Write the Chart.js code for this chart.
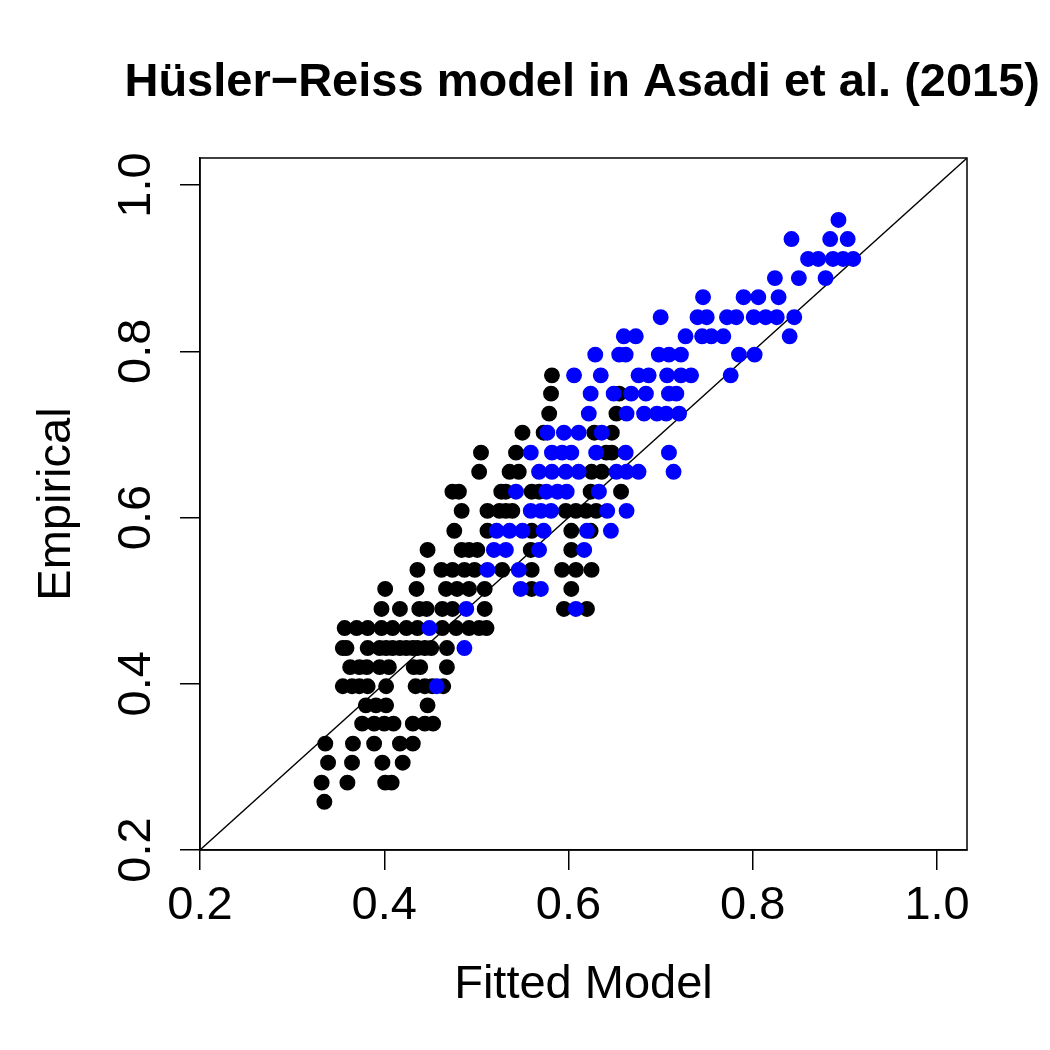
<!DOCTYPE html>
<html>
<head>
<meta charset="utf-8">
<script src="https://cdn.jsdelivr.net/npm/chart.js@4/dist/chart.umd.min.js"></script>
<style>
  html, body { margin: 0; padding: 0; background: #ffffff; }
  #wrap { width: 1050px; height: 1050px; }
</style>
</head>
<body>
<div id="wrap"><canvas id="c" width="1050" height="1050"></canvas></div>
<script>
// ---- data ----
const chartTitle = 'Hüsler\u2212Reiss model in Asadi et al. (2015)';
const xAxisTitle = 'Fitted Model';
const yAxisTitle = 'Empirical';
const xTicks = [0.2, 0.4, 0.6, 0.8, 1.0];
const yTicks = [0.2, 0.4, 0.6, 0.8, 1.0];
const axisRange = [0.2, 1.0325];
const identityLine = [0.2, 1.1];

// discrete empirical values (rows of points)
const empiricalLevels = [0.258, 0.281, 0.305, 0.328, 0.352, 0.374, 0.397, 0.420, 0.443, 0.467,
  0.490, 0.514, 0.537, 0.561, 0.584, 0.608, 0.631, 0.655, 0.678, 0.702, 0.725, 0.749, 0.771,
  0.796, 0.818, 0.841, 0.865, 0.888, 0.911, 0.935, 0.958];

// fitted values of black points, one list per empirical level
const blackFitted = [
  [0.335],
  [0.332, 0.360, 0.401, 0.408],
  [0.339, 0.365, 0.398, 0.420],
  [0.336, 0.366, 0.389, 0.417, 0.431],
  [0.376, 0.389, 0.400, 0.410, 0.431, 0.444, 0.453],
  [0.380, 0.391, 0.402, 0.447],
  [0.355, 0.365, 0.373, 0.382, 0.402, 0.434, 0.444, 0.452, 0.464],
  [0.363, 0.373, 0.381, 0.395, 0.405, 0.432, 0.439, 0.468],
  [0.355, 0.359, 0.382, 0.395, 0.402, 0.409, 0.417, 0.424, 0.431, 0.436, 0.444, 0.451, 0.468],
  [0.357, 0.370, 0.382, 0.397, 0.409, 0.424, 0.436, 0.463, 0.478, 0.492, 0.503, 0.511],
  [0.397, 0.417, 0.438, 0.446, 0.463, 0.474, 0.509, 0.595, 0.620],
  [0.401, 0.435, 0.467, 0.479, 0.492, 0.509, 0.560, 0.603],
  [0.436, 0.462, 0.474, 0.487, 0.498, 0.528, 0.560, 0.593, 0.608, 0.625],
  [0.447, 0.484, 0.492, 0.501, 0.559, 0.603],
  [0.476, 0.512, 0.560, 0.603, 0.624],
  [0.484, 0.512, 0.525, 0.532, 0.539, 0.597, 0.608, 0.619, 0.630],
  [0.474, 0.481, 0.527, 0.532, 0.560, 0.568, 0.624, 0.657],
  [0.503, 0.536, 0.546, 0.625, 0.636],
  [0.505, 0.543, 0.641, 0.647],
  [0.550, 0.573, 0.628, 0.647],
  [0.579, 0.652],
  [0.581, 0.655],
  [0.582]
];

// fitted values of blue points, one list per empirical level
const blueFitted = [
  [], [], [], [], [], [],
  [0.457],
  [],
  [0.487],
  [0.449],
  [0.489, 0.608],
  [0.548, 0.570],
  [0.512, 0.546],
  [0.519, 0.532, 0.568, 0.617],
  [0.522, 0.536, 0.550, 0.573, 0.620, 0.646],
  [0.559, 0.570, 0.581, 0.642, 0.663],
  [0.543, 0.576, 0.588, 0.598, 0.633],
  [0.568, 0.582, 0.597, 0.611, 0.652, 0.663, 0.676, 0.714],
  [0.559, 0.582, 0.593, 0.603, 0.630, 0.662, 0.709],
  [0.577, 0.595, 0.611, 0.636],
  [0.622, 0.663, 0.682, 0.696, 0.706, 0.720],
  [0.624, 0.649, 0.668, 0.684, 0.709, 0.717],
  [0.606, 0.635, 0.676, 0.687, 0.707, 0.722, 0.733, 0.776],
  [0.629, 0.655, 0.662, 0.698, 0.709, 0.722, 0.785, 0.802],
  [0.660, 0.673, 0.727, 0.745, 0.755, 0.768, 0.840],
  [0.700, 0.740, 0.750, 0.772, 0.782, 0.801, 0.814, 0.826, 0.845],
  [0.746, 0.790, 0.806, 0.828],
  [0.824, 0.850, 0.879],
  [0.860, 0.871, 0.887, 0.898, 0.909],
  [0.842, 0.884, 0.903],
  [0.893]
];

// ---- build point tables from the arrays ----
function toPoints(rows) {
  const pts = [];
  rows.forEach((xs, i) => xs.forEach(x => pts.push({ x: x, y: empiricalLevels[i] })));
  return pts;
}
const blackPoints = toPoints(blackFitted);
const bluePoints = toPoints(blueFitted);
const linePoints = identityLine.map(v => ({ x: v, y: v }));

const FONT = '"Liberation Sans", Arial, Helvetica, sans-serif';

const boxPlugin = {
  id: 'box',
  afterDraw(chart) {
    const a = chart.chartArea, ctx = chart.ctx;
    ctx.save();
    ctx.strokeStyle = '#000';
    ctx.lineWidth = 1.5;
    ctx.strokeRect(a.left, a.top, a.right - a.left, a.bottom - a.top);
    ctx.restore();
  }
};

new Chart(document.getElementById('c'), {
  type: 'scatter',
  data: {
    datasets: [
      { label: 'blue', data: bluePoints, order: 0,
        backgroundColor: '#0000ff', borderColor: '#0000ff',
        pointRadius: 7.2, borderWidth: 1.5, pointHoverRadius: 7.2 },
      { label: 'black', data: blackPoints, order: 1,
        backgroundColor: '#000000', borderColor: '#000000',
        pointRadius: 7.2, borderWidth: 1.5, pointHoverRadius: 7.2 },
      { label: 'y = x', data: linePoints, order: 2, showLine: true,
        borderColor: '#000000', borderWidth: 1.3, pointRadius: 0, fill: false }
    ]
  },
  plugins: [boxPlugin],
  options: {
    responsive: false,
    animation: false,
    devicePixelRatio: 1,
    events: [],
    layout: { padding: { left: 0, right: 10, top: 0, bottom: 0 } },
    plugins: {
      legend: { display: false },
      tooltip: { enabled: false },
      title: {
        display: true,
        text: chartTitle,
        fullSize: true,
        align: 'end',
        color: '#000',
        font: { family: FONT, size: 47, weight: 'bold', lineHeight: 1.2 },
        padding: { top: 55, bottom: 46.6 }
      }
    },
    scales: {
      x: {
        type: 'linear',
        min: axisRange[0], max: axisRange[1],
        afterBuildTicks: s => { s.ticks = xTicks.map(v => ({ value: v })); },
        afterFit: s => { s.height = 200; },
        grid: { display: true, drawOnChartArea: false, drawTicks: true, tickLength: 20, color: '#000', lineWidth: 1.5 },
        border: { display: true, color: '#000', width: 1.5 },
        ticks: {
          color: '#000', padding: 8,
          font: { family: FONT, size: 47, lineHeight: 1.2 },
          callback: v => Number(v).toFixed(1), maxRotation: 0, minRotation: 0
        },
        title: {
          display: true, text: xAxisTitle, color: '#000',
          font: { family: FONT, size: 47, lineHeight: 1.2 },
          padding: { top: 0, bottom: 36.8 }
        }
      },
      y: {
        type: 'linear',
        position: 'left',
        min: axisRange[0], max: axisRange[1],
        afterBuildTicks: s => { s.ticks = yTicks.map(v => ({ value: v })); },
        afterFit: s => { s.width = 200; },
        grid: { display: true, drawOnChartArea: false, drawTicks: true, tickLength: 20, color: '#000', lineWidth: 1.5 },
        border: { display: true, color: '#000', width: 1.5 },
        ticks: {
          color: '#000', padding: 10, crossAlign: 'center',
          minRotation: 90, maxRotation: 90,
          font: { family: FONT, size: 47, lineHeight: 1.2 },
          callback: v => Number(v).toFixed(1)
        },
        title: {
          display: true, text: yAxisTitle, color: '#000',
          font: { family: FONT, size: 47, lineHeight: 1.2 },
          padding: { top: 29, bottom: 0 }
        }
      },
      yRight: {
        type: 'linear',
        position: 'right',
        display: true,
        min: axisRange[0], max: axisRange[1],
        afterFit: s => { s.width = 73; },
        grid: { display: false, drawTicks: false },
        border: { display: false },
        ticks: { display: false },
        title: { display: false }
      }
    }
  }
});
</script>
</body>
</html>
